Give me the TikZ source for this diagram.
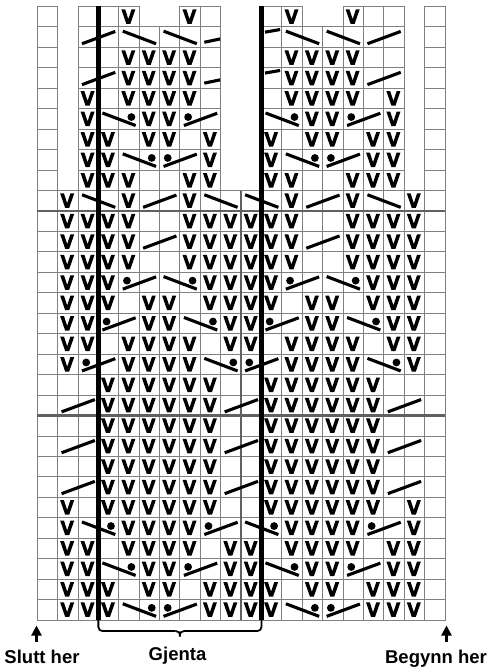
\documentclass[tikz,border=0pt]{standalone}
\usepackage{fontspec}
\setmainfont{Liberation Sans}
\usetikzlibrary{arrows.meta}
\def\W{20.39}\def\H{20.45}\def\XO{37.2}\def\YO{6.5}
\newcommand{\kvee}[2]{\coordinate (v-#1-#2) at ({\XO+(#1-0.5)*\W-0.6},{\YO+(#2-0.5)*\H});
  \fill[shift={(v-#1-#2)}] (-7,-7.3) -- (-3.2,-7.3) -- (0,2.4) -- (3.2,-7.3) -- (7,-7.3) -- (2,7.2) -- (-2,7.2) -- cycle;}
\newcommand{\kslash}[2]{\draw[symline] ({\XO+(#1-1)*\W+4},{\YO+(#2-1)*\H+16.8}) -- ({\XO+(#1+1)*\W-3.5},{\YO+(#2-1)*\H+4.5});}
\newcommand{\kback}[2]{\draw[symline] ({\XO+(#1-1)*\W+4},{\YO+(#2-1)*\H+4.2}) -- ({\XO+(#1+1)*\W-3.5},{\YO+(#2-1)*\H+16.8});}
\newcommand{\kbackdot}[2]{\kback{#1}{#2}\fill ({\XO+(#1-1)*\W+\W+12.6},{\YO+(#2-1)*\H+8.3}) circle (3.9);}
\newcommand{\kdotslash}[2]{\kslash{#1}{#2}\fill ({\XO+(#1-1)*\W+8.2},{\YO+(#2-1)*\H+8.3}) circle (3.9);}
\newcommand{\khalfl}[2]{\draw[symline] ({\XO+(#1-1)*\W+4},{\YO+(#2-1)*\H+15.3}) -- ({\XO+(#1)*\W-0.6},{\YO+(#2-1)*\H+12});}
\newcommand{\khalfr}[2]{\draw[symline] ({\XO+(#1-1)*\W+3.5},{\YO+(#2-1)*\H+5.2}) -- ({\XO+(#1)*\W-1.8},{\YO+(#2-1)*\H+2.6});}
\begin{document}
\begin{tikzpicture}[x=1pt,y=-1pt,
  gl/.style={draw=black!50, line width=0.9pt},
  glthick/.style={draw=black!62, line width=2.6pt},
  repline/.style={line width=4.6pt, draw=black},
  symline/.style={line width=3.1pt, draw=black, line cap=butt},
  lbl/.style={inner sep=0pt, font=\fontsize{18.5}{18.5}\selectfont\bfseries, anchor=base},
  bracket/.style={line width=1.8pt, draw=black, rounded corners=4pt},
  arr/.style={line width=2.2pt, -{Triangle[length=10pt,width=10pt]}}
]
\useasboundingbox (0,0) rectangle (488,669);
% cells
\foreach \r in {10,...,30}{\foreach \c in {1,...,20}{\draw[gl] ({\XO+(\c-1)*\W},{\YO+(\r-1)*\H}) rectangle ++(\W,\H);}}
\foreach \r in {2,...,9}{\foreach \c in {1,3,4,5,6,7,8,9,12,13,14,15,16,17,18,20}{\draw[gl] ({\XO+(\c-1)*\W},{\YO+(\r-1)*\H}) rectangle ++(\W,\H);}}
\foreach \c in {1,3,4,5,8,9,12,13,16,17,18,20}{\draw[gl] ({\XO+(\c-1)*\W},{\YO}) rectangle ++(\W,\H);}
% thicker gray guide lines
\draw[glthick] (\XO,{\YO+10*\H}) -- ({\XO+20*\W},{\YO+10*\H});
\draw[glthick] (\XO,{\YO+20*\H}) -- ({\XO+20*\W},{\YO+20*\H});
\draw[glthick] ({\XO+10*\W},{\YO+9*\H}) -- ({\XO+10*\W},{\YO+30*\H});
% knit symbols
\foreach \r/\cs in {1/{5,8,13,16}, 3/{5,6,7,8,13,14,15,16}, 4/{5,6,7,8,13,14,15,16},
  5/{3,5,6,7,8,13,14,15,16,18}, 6/{3,6,7,14,15,18}, 7/{3,4,6,7,9,12,14,15,17,18},
  8/{3,4,9,12,17,18}, 9/{3,4,5,8,9,12,13,16,17,18}, 10/{2,5,8,13,16,19},
  11/{2,3,4,5,8,9,10,11,12,13,16,17,18,19}, 12/{2,3,4,5,8,9,10,11,12,13,16,17,18,19},
  13/{2,3,4,5,8,9,10,11,12,13,16,17,18,19}, 14/{2,3,4,9,10,11,12,17,18,19},
  15/{2,3,4,6,7,9,10,11,12,14,15,17,18,19}, 16/{2,3,6,7,10,11,14,15,18,19},
  17/{2,3,5,6,7,8,10,11,13,14,15,16,18,19}, 18/{2,5,6,7,8,13,14,15,16,19},
  19/{4,5,6,7,8,9,12,13,14,15,16,17}, 20/{4,5,6,7,8,9,12,13,14,15,16,17},
  21/{4,5,6,7,8,9,12,13,14,15,16,17}, 22/{4,5,6,7,8,9,12,13,14,15,16,17},
  23/{4,5,6,7,8,9,12,13,14,15,16,17}, 24/{4,5,6,7,8,9,12,13,14,15,16,17},
  25/{2,4,5,6,7,8,9,12,13,14,15,16,17,19}, 26/{2,5,6,7,8,13,14,15,16,19},
  27/{2,3,5,6,7,8,10,11,13,14,15,16,18,19}, 28/{2,3,6,7,10,11,14,15,18,19},
  29/{2,3,4,6,7,9,10,11,12,14,15,17,18,19}, 30/{2,3,4,9,10,11,12,17,18,19}}
  {\foreach \c in \cs {\kvee{\c}{\r}}}
\foreach \c/\r in {3/2,17/2,3/4,17/4,6/10,14/10,6/12,14/12,2/20,10/20,18/20,2/22,10/22,18/22,2/24,10/24,18/24}{\kslash{\c}{\r}}
\foreach \c/\r in {5/2,7/2,13/2,15/2,3/10,9/10,11/10,17/10}{\kback{\c}{\r}}
\foreach \c/\r in {4/6,12/6,5/8,13/8,7/14,15/14,8/16,16/16,9/18,17/18,3/26,11/26,4/28,12/28,5/30,13/30}{\kbackdot{\c}{\r}}
\foreach \c/\r in {8/6,16/6,7/8,15/8,5/14,13/14,4/16,12/16,3/18,11/18,9/26,17/26,8/28,16/28,7/30,15/30}{\kdotslash{\c}{\r}}
\foreach \r in {2,4}{\khalfl{9}{\r}\khalfr{12}{\r}}
% repeat lines and bracket
\coordinate (rl-top) at ({\XO+3*\W},{\YO-0.5});
\coordinate (rl-bot) at ({\XO+3*\W},{\YO+30*\H});
\coordinate (rr-top) at ({\XO+11*\W},{\YO-0.5});
\coordinate (rr-bot) at ({\XO+11*\W},{\YO+30*\H});
\coordinate (tip-l) at (175.6,631);
\coordinate (tip) at (179.9,636.5);
\coordinate (tip-r) at (184.2,631);
\draw[repline] (rl-top) -- (rl-bot);
\draw[repline] (rr-top) -- (rr-bot);
\draw[bracket] (rl-bot) |- (tip-l);
\draw[bracket] (rr-bot) |- (tip-r);
\draw[line width=1.8pt] (tip-l) .. controls (178.6,631) and (179.9,632.3) .. (tip) .. controls (179.9,632.3) and (181.2,631) .. (tip-r);
% arrows and labels
\coordinate (al-s) at (36.5,642);
\coordinate (al-e) at (36.5,625.5);
\coordinate (ar-s) at (446.5,642);
\coordinate (ar-e) at (446.5,625.5);
\draw[arr] (al-s) -- (al-e);
\draw[arr] (ar-s) -- (ar-e);
\node[lbl] (slutt) at (42,663) {Slutt her};
\node[lbl] (gjenta) at (177.5,660) {Gjenta};
\node[lbl] (begynn) at (436,663) {Begynn her};
\end{tikzpicture}
\end{document}
